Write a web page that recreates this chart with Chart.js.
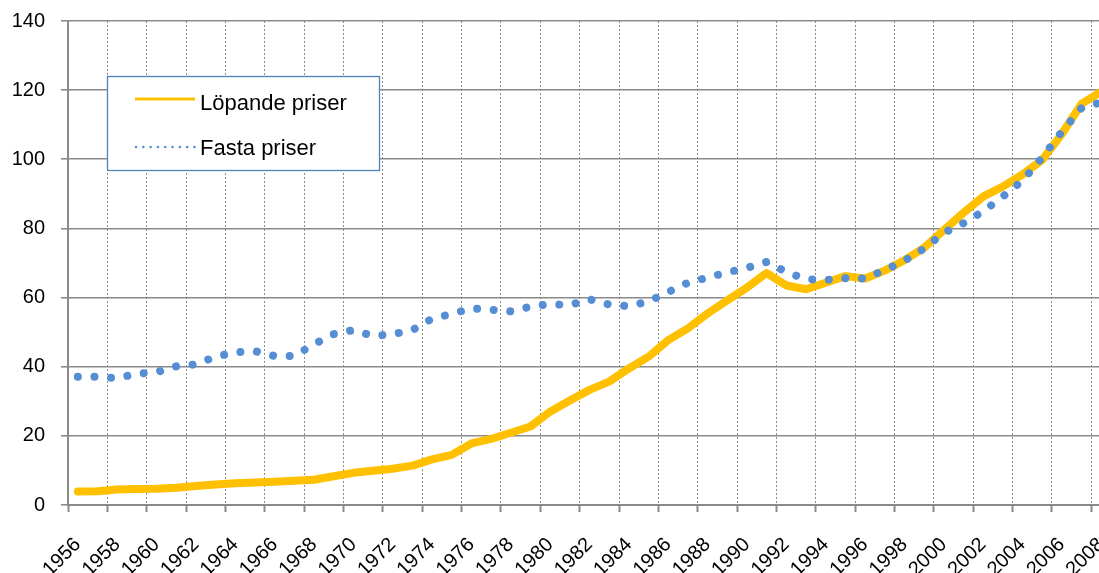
<!DOCTYPE html>
<html>
<head>
<meta charset="utf-8">
<script src="https://cdn.jsdelivr.net/npm/chart.js@4.4.1/dist/chart.umd.min.js"></script>
<style>
  html, body { margin: 0; padding: 0; background: #fff; overflow: hidden; }
  #wrap { position: absolute; left: 0; top: 0; width: 1111px; height: 573px; }
</style>
</head>
<body>
<div id="wrap"><canvas id="c" width="1111" height="573"></canvas></div>
<script>
const years = [
  '1956','1957','1958','1959','1960','1961','1962','1963','1964','1965',
  '1966','1967','1968','1969','1970','1971','1972','1973','1974','1975',
  '1976','1977','1978','1979','1980','1981','1982','1983','1984','1985',
  '1986','1987','1988','1989','1990','1991','1992','1993','1994','1995',
  '1996','1997','1998','1999','2000','2001','2002','2003','2004','2005',
  '2006','2007','2008'
];
const lopandePriser = [
  3.9, 4.0, 4.5, 4.6, 4.7, 5.0, 5.5, 5.9, 6.3, 6.5,
  6.7, 7.0, 7.3, 8.3, 9.3, 9.9, 10.5, 11.4, 13.2, 14.5,
  17.8, 19.1, 20.9, 22.7, 27.0, 30.2, 33.3, 35.7, 39.5, 42.9,
  47.7, 51.1, 55.4, 59.2, 62.9, 67.1, 63.5, 62.4, 64.3, 66.2,
  65.5, 67.8, 70.8, 74.4, 79.5, 84.5, 89.2, 92.1, 95.6, 99.8,
  107.3, 116.0, 119.6
];
const fastaPriser = [
  37.1, 37.1, 36.7, 38.0, 38.4, 40.1, 40.7, 42.9, 44.2, 44.5,
  43.1, 43.1, 46.5, 49.4, 50.6, 48.9, 49.4, 50.6, 53.9, 55.3,
  56.9, 56.5, 56.0, 57.4, 58.1, 57.8, 59.5, 58.0, 57.5, 58.9,
  61.6, 64.3, 65.8, 67.3, 68.6, 70.3, 67.4, 65.3, 65.1, 65.6,
  65.5, 68.0, 70.6, 74.2, 78.7, 81.5, 84.9, 89.2, 93.8, 100.5,
  108.0, 114.8, 116.5
];
const yTicks = [0, 20, 40, 60, 80, 100, 120, 140];
const seriesNames = ['Löpande priser', 'Fasta priser'];

const FONT = "'Liberation Sans', Arial, sans-serif";
const GRID = '#8a8a8a';
const YELLOW = '#FFC000';
const BLUE = '#558ED5';

const legendBox = {
  id: 'legendBox',
  afterDraw(chart) {
    const c = chart.ctx;
    c.save();
    c.fillStyle = '#ffffff';
    c.fillRect(107, 76, 273, 95);
    c.strokeStyle = '#4F81BD';
    c.lineWidth = 1.3;
    c.strokeRect(107.5, 76.5, 272, 94);
    c.font = '22px ' + FONT;
    c.fillStyle = '#000';
    c.textBaseline = 'alphabetic';
    c.textAlign = 'left';
    const ds = chart.data.datasets;
    c.strokeStyle = ds[0].borderColor;
    c.lineWidth = 3;
    c.lineCap = 'butt';
    c.beginPath(); c.moveTo(135, 99); c.lineTo(195, 99); c.stroke();
    c.fillText(ds[0].label, 200, 110);
    c.strokeStyle = ds[1].borderColor;
    c.lineWidth = 2.6;
    c.lineCap = 'round';
    c.setLineDash([0.01, 7.3]);
    c.beginPath(); c.moveTo(136, 147); c.lineTo(195, 147); c.stroke();
    c.setLineDash([]);
    c.fillText(ds[1].label, 200, 155);
    c.restore();
  }
};

new Chart(document.getElementById('c'), {
  type: 'line',
  data: {
    labels: years,
    datasets: [
      {
        label: seriesNames[0],
        data: lopandePriser,
        borderColor: YELLOW,
        borderWidth: 8,
        borderCapStyle: 'round',
        borderJoinStyle: 'round',
        pointRadius: 0,
        tension: 0,
        fill: false,
        order: 1
      },
      {
        label: seriesNames[1],
        data: fastaPriser,
        borderColor: BLUE,
        borderWidth: 8,
        borderDash: [0.01, 16.6],
        borderCapStyle: 'round',
        borderJoinStyle: 'round',
        pointRadius: 0,
        tension: 0,
        fill: false,
        order: 0
      }
    ]
  },
  options: {
    responsive: false,
    animation: false,
    devicePixelRatio: 1,
    layout: { padding: { top: 21, left: 0, right: 0, bottom: 0 } },
    plugins: { legend: { display: false }, tooltip: { enabled: false } },
    scales: {
      x: {
        type: 'category',
        offset: true,
        grid: {
          offset: true,
          color: (ctx) => (ctx.index !== undefined && ctx.index % 2 === 0) ? GRID : 'rgba(0,0,0,0)',
          lineWidth: 1,
          tickLength: 7,
          tickWidth: 2
        },
        border: { display: true, color: GRID, width: 2, dash: [2, 2] },
        ticks: {
          autoSkip: false,
          minRotation: 45,
          maxRotation: 45,
          padding: 21,
          color: '#000',
          font: { family: FONT, size: 20 },
          callback: function (val, i) {
            const y = years[i];
            return (parseInt(y, 10) % 2 === 0) ? y : '';
          }
        },
        afterFit: (s) => { s.height = 68; s.paddingLeft = 0; s.paddingRight = 0; }
      },
      y: {
        min: 0,
        max: 140,
        afterBuildTicks: (s) => { s.ticks = yTicks.map(v => ({ value: v })); },
        grid: { color: GRID, lineWidth: 1.6, tickLength: 7 },
        border: { display: true, color: GRID, width: 2 },
        ticks: {
          padding: 16,
          color: '#000',
          font: { family: FONT, size: 20 }
        },
        afterFit: (s) => { s.width = 68; s.paddingTop = 0; s.paddingBottom = 0; }
      }
    }
  },
  plugins: [legendBox]
});
</script>
</body>
</html>
